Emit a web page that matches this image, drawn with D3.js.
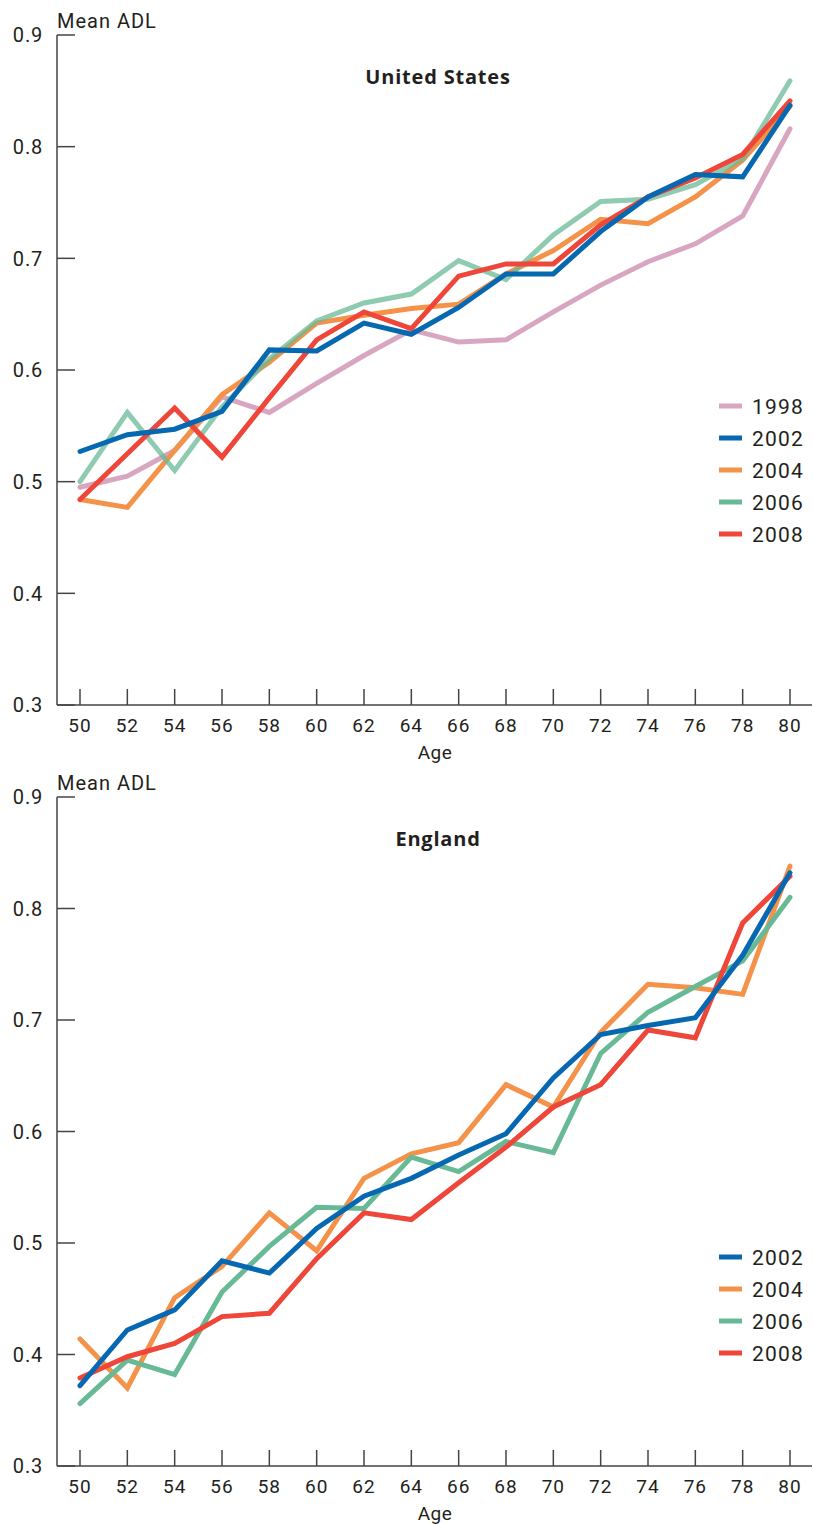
<!DOCTYPE html>
<html>
<head>
<meta charset="utf-8">
<script src="https://cdn.jsdelivr.net/npm/d3@7"></script>
<style>
  body { margin: 0; background: #fff; }
  text { font-family: Roboto, "Open Sans", sans-serif; fill: #231f20; }
  text.title { font-family: "Open Sans", Roboto, sans-serif; font-weight: bold; }
</style>
</head>
<body>
<svg id="chart" width="814" height="1524"></svg>
<script>
const ages = [50, 52, 54, 56, 58, 60, 62, 64, 66, 68, 70, 72, 74, 76, 78, 80];
const yTicks = [0.3, 0.4, 0.5, 0.6, 0.7, 0.8, 0.9];

// United States
const us1998 = [0.495, 0.505, 0.528, 0.576, 0.562, 0.588, 0.613, 0.636, 0.625, 0.627, 0.652, 0.676, 0.697, 0.713, 0.738, 0.816];
const us2002 = [0.527, 0.542, 0.547, 0.563, 0.618, 0.617, 0.642, 0.632, 0.656, 0.686, 0.686, 0.724, 0.755, 0.775, 0.773, 0.837];
const us2004 = [0.484, 0.477, 0.528, 0.578, 0.607, 0.642, 0.649, 0.655, 0.659, 0.686, 0.707, 0.735, 0.731, 0.755, 0.788, 0.836];
const us2006 = [0.500, 0.562, 0.510, 0.567, 0.610, 0.644, 0.660, 0.668, 0.698, 0.681, 0.721, 0.751, 0.753, 0.766, 0.789, 0.859];
const us2008 = [0.484, 0.525, 0.566, 0.522, 0.575, 0.627, 0.652, 0.637, 0.684, 0.695, 0.695, 0.730, 0.755, 0.772, 0.793, 0.841];

// England
const en2002 = [0.372, 0.422, 0.440, 0.484, 0.473, 0.513, 0.542, 0.558, 0.579, 0.598, 0.648, 0.687, 0.695, 0.702, 0.758, 0.832];
const en2004 = [0.414, 0.370, 0.451, 0.479, 0.527, 0.493, 0.558, 0.580, 0.590, 0.642, 0.622, 0.689, 0.732, 0.729, 0.723, 0.838];
const en2006 = [0.356, 0.395, 0.382, 0.456, 0.497, 0.532, 0.531, 0.577, 0.564, 0.591, 0.581, 0.670, 0.707, 0.730, 0.753, 0.810];
const en2008 = [0.379, 0.398, 0.410, 0.434, 0.437, 0.486, 0.527, 0.521, 0.554, 0.586, 0.622, 0.642, 0.691, 0.684, 0.787, 0.829];

const colors = {
  "1998": "#d8a6c0",
  "2002": "#0768b2",
  "2004": "#f59249",
  "2006": "#68b995",
  "2008": "#ee4638"
};

const svg = d3.select("#chart");

function drawPanel(cfg) {
  const g = svg.append("g");
  const x = d3.scaleLinear().domain([50, 80]).range([80, 790]);
  const y = d3.scaleLinear().domain([0.3, 0.9]).range([cfg.bottom, cfg.top]);
  const axisX = 57;

  // y axis line + ticks pointing into the plot
  g.append("line")
    .attr("x1", axisX).attr("x2", axisX)
    .attr("y1", y(0.9)).attr("y2", y(0.3))
    .attr("stroke", "#444").attr("stroke-width", 1.5);
  g.selectAll(".ytick").data(yTicks).enter().append("line")
    .attr("x1", axisX).attr("x2", axisX + 18)
    .attr("y1", d => y(d)).attr("y2", d => y(d))
    .attr("stroke", "#444").attr("stroke-width", 1.5);
  g.selectAll(".ylab").data(yTicks).enter().append("text")
    .attr("x", 43).attr("y", d => y(d))
    .attr("dy", "0.36em")
    .attr("text-anchor", "end")
    .style("font-size", "20px")
    .style("letter-spacing", "0.8px")
    .text(d => d3.format(".1f")(d));

  // x axis line + ticks pointing up
  g.append("line")
    .attr("x1", axisX).attr("x2", 812)
    .attr("y1", y(0.3)).attr("y2", y(0.3))
    .attr("stroke", "#444").attr("stroke-width", 1.5);
  g.selectAll(".xtick").data(ages).enter().append("line")
    .attr("x1", d => x(d)).attr("x2", d => x(d))
    .attr("y1", y(0.3)).attr("y2", y(0.3) - 16)
    .attr("stroke", "#444").attr("stroke-width", 1.5);
  g.selectAll(".xlab").data(ages).enter().append("text")
    .attr("x", d => x(d)).attr("y", y(0.3) + 27)
    .attr("text-anchor", "middle")
    .style("font-size", "19px")
    .style("letter-spacing", "1px")
    .text(d => d);

  g.append("text")
    .attr("x", 435).attr("y", y(0.3) + 54)
    .attr("text-anchor", "middle")
    .style("font-size", "19px")
    .style("letter-spacing", "0.5px")
    .text("Age");

  g.append("text")
    .attr("x", axisX).attr("y", y(0.9) - 7)
    .style("font-size", "20px")
    .style("letter-spacing", "1px")
    .text("Mean ADL");

  g.append("text")
    .attr("class", "title")
    .attr("x", 438).attr("y", y(0.9) + 49)
    .attr("text-anchor", "middle")
    .style("font-size", "20px")
    .style("letter-spacing", "0.8px")
    .text(cfg.title);

  const line = d3.line()
    .x((d, i) => x(ages[i]))
    .y(d => y(d));

  cfg.series.forEach(s => {
    g.append("path")
      .datum(s.values)
      .attr("fill", "none")
      .attr("stroke", colors[s.name])
      .attr("stroke-opacity", s.opacity || 1)
      .attr("stroke-width", 5)
      .attr("stroke-linejoin", "miter")
      .attr("stroke-linecap", "round")
      .attr("d", line);
  });

  // legend
  const leg = g.append("g");
  cfg.legend.forEach((name, i) => {
    const ly = cfg.legendTop + i * 32;
    leg.append("line")
      .attr("x1", 719).attr("x2", 742)
      .attr("y1", ly).attr("y2", ly)
      .attr("stroke", colors[name]).attr("stroke-width", 5);
    leg.append("text")
      .attr("x", 752).attr("y", ly)
      .attr("dy", "0.36em")
      .style("font-size", "21px")
      .style("letter-spacing", "1.2px")
      .text(name);
  });
}

drawPanel({
  title: "United States",
  top: 35, bottom: 705,
  series: [
    { name: "1998", values: us1998 },
    { name: "2004", values: us2004 },
    { name: "2006", values: us2006, opacity: 0.75 },
    { name: "2008", values: us2008 },
    { name: "2002", values: us2002 }
  ],
  legend: ["1998", "2002", "2004", "2006", "2008"],
  legendTop: 406
});

drawPanel({
  title: "England",
  top: 797, bottom: 1466,
  series: [
    { name: "2004", values: en2004 },
    { name: "2006", values: en2006 },
    { name: "2008", values: en2008 },
    { name: "2002", values: en2002 }
  ],
  legend: ["2002", "2004", "2006", "2008"],
  legendTop: 1257
});
</script>
</body>
</html>
